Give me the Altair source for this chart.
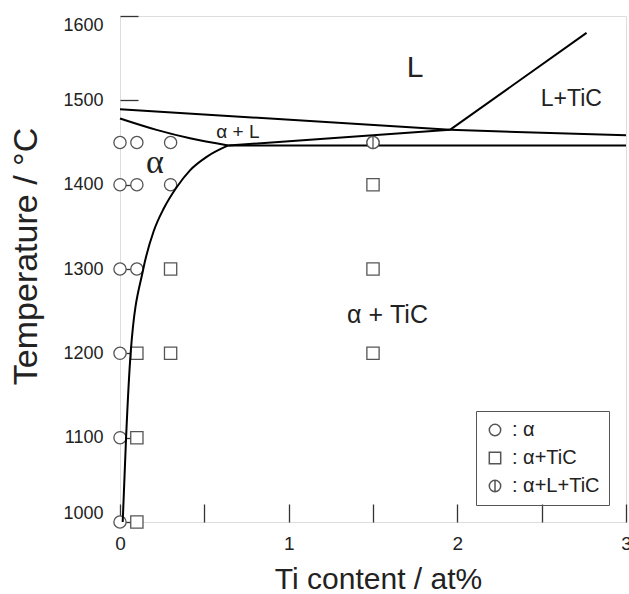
import altair as alt
import pandas as pd

# ---- experimental points (Ti content at%, temperature degC) ----
alpha_x = [0, 0.1, 0.3, 0, 0.1, 0.3, 0, 0.1, 0, 0, 0]
alpha_t = [1450, 1450, 1450, 1400, 1400, 1400, 1300, 1300, 1200, 1100, 1000]
tic_x = [1.5, 0.3, 1.5, 0.1, 0.3, 1.5, 0.1, 0.1]
tic_t = [1400, 1300, 1300, 1200, 1200, 1200, 1100, 1000]
altic_x = [1.5]
altic_t = [1450]
phase_names = [": α", ": α+TiC", ": α+L+TiC"]

# ---- phase boundaries ----
liq_alpha_x = [0, 1.956]
liq_alpha_t = [1489.5, 1465]
sol_alpha_x = [0, 0.217, 0.415, 0.642]
sol_alpha_t = [1478.5, 1465, 1455, 1446.5]
solvus_x = [0.016, 0.036, 0.063, 0.138, 0.2, 0.26, 0.336, 0.415, 0.514, 0.642]
solvus_t = [1000, 1100, 1200, 1300, 1345, 1372, 1397, 1417, 1433, 1446.5]
peri_x = [0.642, 1.956]
peri_t = [1446.5, 1465]
liq_right_x = [1.956, 3]
liq_right_t = [1465, 1458.5]
liq_tic_x = [1.956, 2.766]
liq_tic_t = [1465, 1580]
eutectic_x = [0.642, 3]
eutectic_t = [1446.5, 1446.5]

# ---- region labels ----
region_text = ["L", "L+TiC", "α + L", "α", "α + TiC"]
region_x = [1.749, 2.676, 0.699, 0.207, 1.586]
region_t = [1538, 1501, 1463, 1426, 1245]

x_ticks = [0, 0.5, 1, 1.5, 2, 2.5, 3]
y_ticks = [1000, 1100, 1200, 1300, 1400, 1500, 1600]

FONT = "Liberation Sans"
INK = "#222222"
MARK_EDGE = "#555555"

pts = pd.DataFrame(
    {"x": alpha_x + tic_x + altic_x,
     "t": alpha_t + tic_t + altic_t,
     "phase": [phase_names[0]] * len(alpha_x)
     + [phase_names[1]] * len(tic_x)
     + [phase_names[2]] * len(altic_x)}
)

segs = {
    "liq_alpha": (liq_alpha_x, liq_alpha_t),
    "sol_alpha": (sol_alpha_x, sol_alpha_t),
    "solvus": (solvus_x, solvus_t),
    "peri": (peri_x, peri_t),
    "liq_right": (liq_right_x, liq_right_t),
    "liq_tic": (liq_tic_x, liq_tic_t),
    "eutectic": (eutectic_x, eutectic_t),
}
rows = []
for name, (xs, ts) in segs.items():
    for xv, tv in zip(xs, ts):
        rows.append({"seg": name, "x": xv, "t": tv})
lines_df = pd.DataFrame(rows)

xscale = alt.Scale(domain=[0, 3], nice=False, zero=False)
yscale = alt.Scale(domain=[1000, 1600], nice=False, zero=False)
shape_scale = alt.Scale(
    domain=phase_names,
    range=["circle", "square", "M-1,0A1,1,0,1,0,1,0A1,1,0,1,0,-1,0ZM0,-1L0,1"],
)

x_axis = alt.Axis(
    values=x_ticks, tickSize=18, offset=-18, domain=False, grid=False,
    labelExpr="datum.value % 1 == 0 ? format(datum.value, 'd') : ''",
    labelFont=FONT, labelFontSize=19, labelColor=INK, labelPadding=12,
    labelFlush=False, tickColor="#333", tickWidth=1.3,
    title="Ti content / at%", titleFont=FONT, titleFontSize=30,
    titleFontWeight="normal", titleColor=INK,
    titleX=258, titleY=84, titleBaseline="alphabetic", titleAlign="center",
)
y_axis = alt.Axis(
    values=y_ticks, tickSize=18, offset=-18, domain=False, grid=False,
    format="d", labelFont=FONT, labelFontSize=18, labelColor=INK,
    labelPadding=17, labelFlush=True, tickColor="#333", tickWidth=1.3,
    title="Temperature / °C", titleFont=FONT, titleFontSize=34,
    titleFontWeight="normal", titleColor=INK, titleAngle=270,
    titleX=-102, titleY=240, titleBaseline="alphabetic", titleAlign="center",
)

point_style = dict(fill="white", fillOpacity=1, color=MARK_EDGE,
                   strokeWidth=1.3, size=150, opacity=1)

points = alt.Chart(pts).mark_point(**point_style).encode(
    x=alt.X("x:Q", scale=xscale, axis=x_axis),
    y=alt.Y("t:Q", scale=yscale, axis=y_axis),
    shape=alt.Shape(
        "phase:N", scale=shape_scale,
        legend=alt.Legend(
            title=None, orient="none", legendX=356, legendY=395,
            strokeColor=MARK_EDGE, padding=9,
            rowPadding=8, labelOffset=7, labelFont=FONT, labelFontSize=20,
            labelColor=INK, symbolSize=130,
        ),
    ),
)

lines = alt.Chart(lines_df).mark_line(
    color="black", strokeWidth=2, interpolate="monotone"
).encode(
    x=alt.X("x:Q", scale=xscale),
    y=alt.Y("t:Q", scale=yscale),
    detail="seg:N",
)

three_phase = alt.Chart(pts).transform_filter(
    alt.datum.phase == phase_names[2]
).mark_point(**point_style).encode(
    x=alt.X("x:Q", scale=xscale),
    y=alt.Y("t:Q", scale=yscale),
    shape=alt.Shape("phase:N", scale=shape_scale, legend=None),
)

font_for = {"α": "Liberation Serif"}
size_for = {"L": 30, "L+TiC": 23, "α + L": 19, "α": 34, "α + TiC": 25}
texts = []
for txt, xv, tv in zip(region_text, region_x, region_t):
    df = pd.DataFrame({"x": [xv], "t": [tv], "label": [txt]})
    texts.append(
        alt.Chart(df).mark_text(
            font=font_for.get(txt, FONT), fontSize=size_for[txt], color=INK,
            align="center", baseline="middle",
        ).encode(
            x=alt.X("x:Q", scale=xscale),
            y=alt.Y("t:Q", scale=yscale),
            text="label:N",
        )
    )

chart = alt.layer(points, lines, three_phase, *texts).properties(
    width=506, height=506,
    padding={"left": 120, "top": 16, "right": 3, "bottom": 72},
    autosize=alt.AutoSizeParams(type="none"),
).configure_view(stroke="#333333", strokeWidth=1.5).configure(background="white")

chart.save("out.html", embed_options={"renderer": "svg", "actions": False})
